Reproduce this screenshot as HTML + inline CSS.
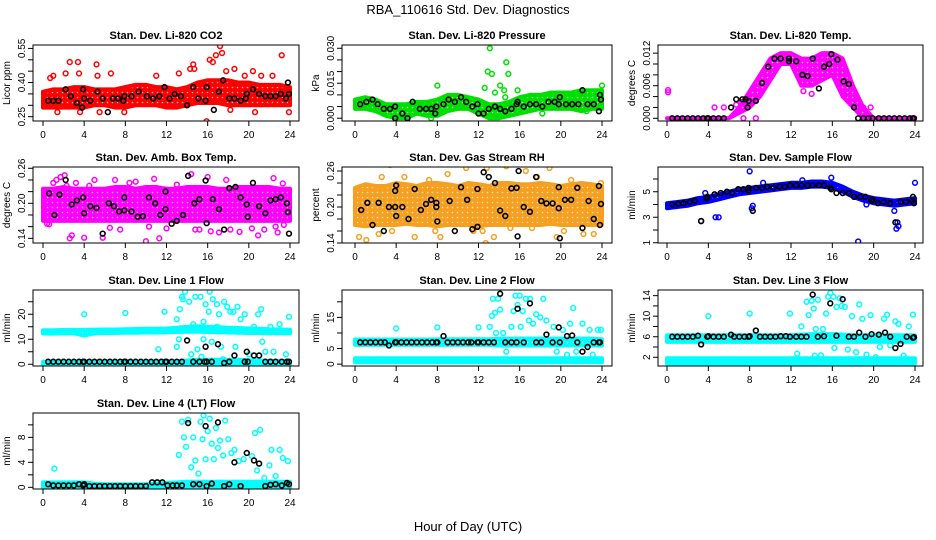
<!DOCTYPE html>
<html><head><meta charset="utf-8"><style>
html,body{margin:0;padding:0;background:#fff;}
svg{display:block;font-family:"Liberation Sans",Arial,sans-serif;}
</style></head><body>
<svg id="chart" width="936" height="540" viewBox="0 0 936 540" xmlns="http://www.w3.org/2000/svg">
<rect width="936" height="540" fill="#fff"/>
<text x="468" y="14" text-anchor="middle" font-size="13">RBA_110616  Std. Dev. Diagnostics</text>
<text x="468" y="531" text-anchor="middle" font-size="13">Hour of Day (UTC)</text>
</svg>
<script>
// ---- data: hourly band limits (hours 0..24) ----
const bandHours = [0,1,2,3,4,5,6,7,8,9,10,11,12,13,14,15,16,17,18,19,20,21,22,23,24];
const xTicks = [0,4,8,12,16,20,24];
// CO2
const co2Lo = [0.29,0.29,0.29,0.29,0.29,0.30,0.30,0.29,0.29,0.30,0.30,0.30,0.29,0.29,0.30,0.31,0.31,0.31,0.30,0.30,0.30,0.30,0.30,0.30,0.30];
const co2Hi = [0.36,0.37,0.37,0.38,0.38,0.37,0.37,0.37,0.38,0.39,0.39,0.38,0.38,0.37,0.38,0.40,0.41,0.41,0.41,0.40,0.40,0.39,0.39,0.39,0.38];
const co2OutX = [1,0.7,2.2,2.6,3.4,3.5,5.2,5.3,6.6,1.4,3.6,5.5,7.9,11,13.2,14.6,14.7,15.9,16.2,16.8,17.2,17.4,17.8,18.6,19.6,20.4,20.6,21.2,22.3,23.2,23.9,18.2,16.5,14.3];
const co2OutY = [0.43,0.42,0.44,0.49,0.49,0.44,0.48,0.43,0.44,0.27,0.27,0.27,0.27,0.43,0.44,0.48,0.46,0.23,0.50,0.52,0.56,0.53,0.45,0.46,0.43,0.45,0.27,0.43,0.43,0.52,0.27,0.28,0.49,0.46];
const co2BlkX = [0.5,1,1.5,2.2,2.7,3.3,3.8,3.9,4.0,4.6,5.3,5.8,6.3,6.8,7.3,7.8,7.9,8.6,9.3,10.1,10.7,11.3,11.8,12.3,12.8,13.4,14.0,14.6,15.1,15.8,15.9,16.6,17.1,17.5,18.1,18.6,19.2,19.7,19.8,20.4,21,21.6,22.1,22.6,23.1,23.6,23.8,23.9];
const co2BlkY = [0.32,0.32,0.32,0.37,0.34,0.31,0.29,0.37,0.33,0.32,0.36,0.33,0.27,0.33,0.33,0.32,0.34,0.34,0.36,0.34,0.33,0.34,0.38,0.33,0.35,0.34,0.30,0.38,0.33,0.32,0.38,0.28,0.36,0.41,0.33,0.33,0.32,0.33,0.35,0.37,0.35,0.34,0.34,0.34,0.35,0.33,0.40,0.35];
// Pressure
const prLo = [0.004,0.004,0.003,0.001,0.000,0.000,0.002,0.001,0.001,0.003,0.004,0.004,0.002,0.000,0.000,0.001,0.002,0.003,0.004,0.004,0.004,0.004,0.003,0.004,0.004];
const prHi = [0.008,0.009,0.008,0.006,0.006,0.006,0.007,0.007,0.008,0.010,0.010,0.009,0.008,0.006,0.006,0.007,0.009,0.010,0.010,0.011,0.011,0.011,0.012,0.012,0.012];
const prOutX = [8,13.1,12.9,13.3,14.7,14.9,12.6,14.1,13.6,14.5,15.8,14.6,22.1,24,7.4,18.2,22.5,20.2,21.3];
const prOutY = [0.014,0.030,0.020,0.019,0.024,0.019,0.013,0.014,0.011,0.012,0.012,0.009,0.012,0.014,0.000,0.002,0.003,0.010,0.010];
const prBlkX = [0.5,1.1,1.7,2.2,2.8,3.4,3.9,3.9,4.6,5.1,5.6,6.3,6.9,7.4,7.8,7.9,8.6,9.1,9.7,10.3,10.8,11.4,11.9,12.0,12.5,13.0,13.6,14.1,14.6,15.2,15.7,15.8,16.4,17.0,17.6,18.2,18.8,19.4,19.8,19.9,20.5,21.1,21.7,22.1,22.6,23.2,23.7,23.8,23.9];
const prBlkY = [0.006,0.007,0.008,0.006,0.004,0.004,0.005,0.000,0.002,0.000,0.007,0.004,0.004,0.004,0.002,0.005,0.006,0.008,0.007,0.009,0.007,0.005,0.006,0.002,0.002,0.004,0.005,0.004,0.003,0.004,0.006,0.007,0.005,0.006,0.006,0.005,0.007,0.007,0.006,0.009,0.006,0.006,0.006,0.012,0.006,0.006,0.003,0.010,0.008];
// Li-820 temp
const ltLo = [0,0,0,0,0,0,0,0.001,0.002,0.004,0.007,0.010,0.010,0.006,0.006,0.007,0.008,0.004,0.002,0,0,0,0,0,0];
const ltHi = [0,0,0,0,0,0,0,0.002,0.005,0.008,0.011,0.012,0.012,0.011,0.011,0.012,0.012,0.011,0.006,0.002,0,0,0,0,0];
const ltOutX = [0.1,0.1,4.6,5.5,6.7,7.2,14.0,13.2,18.3,19,19.7,8.6,7.4];
const ltOutY = [0.0052,0.0048,0.002,0.002,0.0025,0.003,0.0045,0.005,0.002,0.002,0.002,0.000,0.000];
const ltBlkX = [0.5,1,1.5,2,2.5,3,3.5,3.9,4,4.5,5,5.5,6.2,6.7,7.3,7.6,7.8,7.9,8.6,9.2,9.8,10.4,11,11.8,11.8,12.5,13.1,13.6,14.1,14.7,15.2,15.7,15.9,16.5,17.1,17.6,18.1,18.5,19,19.5,19.9,20.5,21,21.5,22,22.5,23,23.5,23.8,23.9];
const ltBlkY = [0,0,0,0,0,0,0,0,0,0,0,0,0.002,0.0035,0.0035,0.0035,0.002,0.0032,0.0032,0.0065,0.0095,0.011,0.011,0.0105,0.011,0.0105,0.008,0.0078,0.011,0.0055,0.0095,0.010,0.0118,0.0108,0.0068,0.0063,0.002,0,0,0,0,0,0,0,0,0,0,0,0,0];
// Amb box temp
const abLo = [0.17,0.17,0.17,0.17,0.17,0.17,0.17,0.17,0.17,0.17,0.17,0.17,0.17,0.17,0.17,0.17,0.17,0.17,0.17,0.17,0.17,0.17,0.17,0.17,0.17];
const abHi = [0.225,0.225,0.228,0.225,0.225,0.225,0.225,0.228,0.228,0.225,0.228,0.228,0.225,0.225,0.228,0.228,0.228,0.225,0.225,0.228,0.228,0.228,0.228,0.225,0.225];
const abOutX = [0.4,0.6,1,1.3,1.7,2.1,2.3,2.6,2.8,3.2,4,4.5,5,5.8,6.5,7,7.5,8.4,9.0,10,10.3,10.8,11.3,12,13,14.4,14.8,15.2,16,16.3,17.1,17.8,18.2,19.1,20.3,20.9,21.5,22.4,22.6,22.8,23.3,23.4];
const abOutY = [0.165,0.164,0.235,0.24,0.245,0.248,0.23,0.14,0.145,0.235,0.141,0.23,0.24,0.141,0.158,0.24,0.155,0.235,0.237,0.135,0.16,0.242,0.14,0.157,0.232,0.25,0.155,0.155,0.245,0.152,0.15,0.24,0.155,0.151,0.157,0.145,0.155,0.243,0.16,0.15,0.234,0.163];
const abBlkX = [0.6,1.1,1.6,2.2,2.8,3.3,3.9,4.0,4.6,5.2,5.8,6.4,6.9,7.4,7.9,7.9,8.6,9.2,9.7,10.3,10.9,11.4,11.9,11.9,12.5,13.0,13.6,14.1,14.7,15.2,15.8,15.9,16.5,17.1,17.6,18.1,18.7,19.2,19.8,19.9,20.4,21,21.6,22.1,22.6,23.1,23.7,23.8,23.9];
const abBlkY = [0.217,0.18,0.215,0.24,0.198,0.205,0.21,0.183,0.195,0.192,0.148,0.2,0.195,0.186,0.188,0.21,0.186,0.177,0.178,0.21,0.2,0.18,0.19,0.22,0.165,0.17,0.18,0.247,0.2,0.207,0.239,0.166,0.207,0.19,0.155,0.226,0.228,0.21,0.198,0.177,0.235,0.195,0.183,0.205,0.207,0.21,0.2,0.185,0.148];
// Gas stream RH
const rhLo = [0.17,0.168,0.17,0.17,0.17,0.172,0.17,0.17,0.168,0.17,0.17,0.17,0.168,0.17,0.17,0.17,0.17,0.17,0.17,0.172,0.17,0.17,0.17,0.17,0.17];
const rhHi = [0.232,0.238,0.235,0.235,0.24,0.238,0.235,0.24,0.24,0.238,0.235,0.24,0.238,0.235,0.24,0.24,0.238,0.238,0.24,0.238,0.235,0.238,0.24,0.238,0.235];
const rhOutX = [0.4,1.1,1.6,2.3,2.6,3.4,3.6,4.8,5.8,7.2,7.8,8.3,9.0,10.8,11.5,12.4,12.7,13.5,14.7,15.1,16.6,17.2,17.7,18.9,19.6,20.3,21.0,22.2,23.2,23.9,12.8];
const rhOutY = [0.15,0.145,0.175,0.155,0.25,0.27,0.16,0.25,0.15,0.245,0.16,0.15,0.255,0.265,0.16,0.16,0.14,0.15,0.268,0.165,0.26,0.165,0.25,0.265,0.15,0.16,0.245,0.155,0.155,0.24,0.265];
const rhBlkX = [0.6,1.2,1.7,2.3,2.8,3.3,3.9,3.9,4.0,4.0,4.6,5.2,5.8,6.4,6.9,7.4,7.9,7.9,8.0,8.6,9.2,9.7,10.3,10.9,11.4,11.9,11.9,12.5,13.0,13.6,14.1,14.6,15.2,15.7,15.8,15.9,16.4,17,17.6,18.1,18.6,19.2,19.8,19.8,19.9,20.4,21,21.6,22.1,22.7,23.2,23.7,23.8,23.9];
const rhBlkY = [0.195,0.207,0.17,0.207,0.16,0.2,0.2,0.227,0.236,0.185,0.2,0.18,0.23,0.195,0.205,0.212,0.2,0.207,0.176,0.275,0.21,0.16,0.233,0.212,0.163,0.23,0.167,0.258,0.25,0.24,0.194,0.185,0.231,0.232,0.151,0.26,0.2,0.192,0.25,0.21,0.206,0.206,0.233,0.198,0.148,0.212,0.212,0.232,0.165,0.21,0.18,0.235,0.17,0.205];
// Sample flow
const sfLo = [3.7,3.8,3.9,4.1,4.2,4.4,4.6,4.8,4.9,5.0,5.1,5.2,5.3,5.3,5.4,5.4,5.3,5.0,4.6,4.3,4.1,4.0,3.9,4.0,4.1];
const sfHi = [4.1,4.2,4.3,4.5,4.6,4.8,5.0,5.2,5.3,5.4,5.5,5.6,5.7,5.7,5.8,5.8,5.7,5.4,5.0,4.7,4.5,4.4,4.3,4.4,4.5];
const sfOutX = [3.3,4.7,3.7,8.2,8.0,9.6,9.3,13.1,15.9,17.0,18.5,19.3,21.5,22.0,22.2,22.3,22.4,23.1,24.0,5,8.3];
const sfOutY = [2.7,3.0,4.9,3.7,6.6,5.3,5.7,5.9,6.1,4.9,1.1,4.0,4.2,3.5,2.1,2.6,2.3,4.2,5.7,3.0,3.9];
const sfBlkX = [0.5,1.1,1.6,2.2,2.7,3.3,3.8,3.9,4.6,5.2,5.8,6.3,6.9,7.4,7.9,7.9,8.3,8.6,9.2,9.7,10.3,10.9,11.4,11.9,12.5,13,13.6,14.1,14.7,15.2,15.8,15.9,16.4,17,17.6,18.1,18.7,19.2,19.8,19.9,20.4,21,21.6,22.1,22.6,23.1,23.7,23.8,23.9];
const sfBlkY = [4.0,4.05,4.1,4.2,4.3,2.7,4.5,4.6,4.8,4.9,5.0,4.9,5.2,5.2,5.1,5.3,3.5,5.3,5.3,5.4,5.3,5.4,5.4,5.5,5.5,5.5,5.5,5.5,5.5,5.5,5.3,5.2,4.9,4.9,4.9,4.6,4.6,4.6,4.3,4.4,4.1,4.2,4.1,2.6,4.2,4.2,4.3,4.6,4.1];
// Line 1 flow
const l1LoA = [12.3,12.3,12.4,12.4,11.5,12.4,12.5,12.5,12.6,12.6,12.7,12.7,12.8,12.9,13.0,13.0,12.9,12.8,12.7,12.6,12.5,12.5,12.4,12.4,12.4];
const l1HiA = [13.6,13.6,13.7,13.7,13.8,13.8,13.9,13.9,14.0,14.1,14.2,14.2,14.3,14.6,15.0,15.2,15.0,14.8,14.6,14.5,14.3,14.2,14.0,13.9,13.8];
const l1LoB = [0,0,0,0,0,0,0,0,0,0,0,0,0,0,0,0,0,0,0,0,0,0,0,0,0];
const l1HiB = [1.0,1.0,1.0,1.0,1.0,1.0,1.0,1.0,1.0,1.0,1.0,1.0,1.0,1.2,1.5,1.8,1.8,1.8,1.8,1.8,1.6,1.5,1.4,1.3,1.2];
const l1OutX = [4,8,11.2,11.8,13,13.3,13.5,13.6,13.8,13.2,13,14.2,14.4,14.8,15,15.3,15.4,15.6,15.6,15.8,16.1,16.2,16.4,16.5,16.9,17.1,17.3,17.6,17.9,18.2,18.5,18.7,18.9,19.2,19.6,20.0,20.5,20.9,21.2,21.3,21.6,22.1,22.4,23,23.6,23.9,14.6,17.5,16.9];
const l1OutY = [20,20.5,6,21,18,22,27,26,29,10,7,25,4,27,6,27,3,17,10,24,21,29,9,26,24,20,7,25,23,21,21,7,23,18,20,4,15,20,22,9,5,15,5,16,4,19,16,2,15];
const l1BlkX = [0.5,1,1.5,2,2.5,3,3.5,3.9,4,4.5,5,5.5,6,6.5,7,7.5,7.9,8,8.5,9,9.5,10,10.5,11,11.5,11.9,12,12.5,13,13.5,14,14.6,15.2,15.7,15.8,15.9,16.4,17,17.6,18.1,18.6,19.6,19.8,19.9,20.5,21,21.6,22.1,22.6,23.2,23.7,23.9];
const l1BlkY = [1,1,1,1,1,1,1,1,1,1,1,1,1,1,1,1,1,1,1,1,1,1,1,1,1,1,1,1,1,1,9.5,1,1,1,7,1,1,8,0.5,1,3.5,1,5,1,3.5,3.5,1,1,1,1,1,1];
// Line 2 flow
const l2LoA = [6.2,6.2,6.2,6.2,6.2,6.2,6.2,6.2,6.2,6.2,6.2,6.2,6.2,6.2,6.0,6.0,6.0,6.0,6.0,6.0,6.0,6.0,6.0,6.0,6.0];
const l2HiA = [7.9,7.9,7.9,7.9,7.9,7.9,7.9,7.9,8.0,8.0,8.0,8.0,8.0,8.0,8.2,8.2,8.2,8.2,8.2,8.2,8.2,8.2,8.2,8.2,8.0];
const l2LoB = [0.6,0.6,0.6,0.6,0.6,0.6,0.6,0.6,0.6,0.6,0.6,0.6,0.6,0.6,0.6,0.6,0.6,0.6,0.6,0.6,0.6,0.6,0.6,0.6,0.6];
const l2HiB = [1.9,1.9,1.9,1.9,1.9,1.9,1.9,1.9,1.9,1.9,1.9,1.9,1.9,1.9,1.9,1.9,1.9,1.9,1.9,1.9,1.9,1.9,1.9,1.9,1.9];
const l2OutX = [4,8,12,13.1,13.3,13.4,13.6,13.9,14.1,14.4,14.7,15,15.2,15.4,15.6,15.8,16,16.3,16.6,16.9,17,17.3,17.6,18,18.3,18.6,19,19.3,19.6,20.2,20.6,20.9,21.2,21.5,22.1,22.8,23.1,23.6,23.9,13.7,16.1];
const l2OutY = [11.5,11.8,11.8,12,15.5,21,16.5,21,17.5,10,4,7,12,17,22,19,22,17,21,14,21,13,16,15,21,14,7,12,4,11,3,13,18,4,13,11,3,11,11,10,12];
const l2BlkX = [0.5,1,1.5,2,2.5,2.9,3.3,3.9,4,4.5,5,5.5,6,6.5,7,7.5,7.9,8,8.6,9,9.5,10,10.5,11,11.3,11.9,12,12.5,13,13.5,14.1,14.6,15.2,15.7,15.8,16.4,17,17.6,18.1,18.6,19.2,19.8,19.9,20.6,21.1,21.6,22.1,22.6,23.2,23.7,23.8];
const l2BlkY = [7,7,7,7,7,7,6,7,7,7,7,7,7,7,7,7,7,7,9,7,7,7,7,7,7,7,7,7,7,7,22.6,7,7,7,17.8,7,19.5,7,7,9.5,7,11.8,7,9,9.2,7,4,5.5,7,7,7];
// Line 3 flow
const l3LoA = [5.0,5.0,5.0,5.0,5.0,5.0,5.0,5.0,5.0,5.0,5.0,5.0,5.0,5.0,5.0,5.0,5.0,5.0,5.0,5.0,5.0,5.0,5.0,5.0,5.0];
const l3HiA = [6.3,6.3,6.3,6.3,6.3,6.3,6.3,6.3,6.3,6.3,6.3,6.3,6.3,6.4,6.5,6.5,6.5,6.4,6.3,6.3,6.3,6.3,6.3,6.3,6.3];
const l3LoB = [0.8,0.8,0.8,0.8,0.8,0.8,0.8,0.8,0.8,0.8,0.8,0.8,0.8,0.8,0.8,0.8,0.8,0.8,0.8,0.8,0.8,0.8,0.8,0.8,0.8];
const l3HiB = [1.8,1.8,1.8,1.8,1.8,1.8,1.8,1.8,1.8,1.8,1.8,1.8,1.8,1.8,1.8,1.8,1.8,1.8,1.8,1.8,1.8,1.8,1.8,1.8,1.8];
const l3OutX = [4,8,11.9,12.6,13,13.5,13.7,14,14.2,14.4,14.6,14.9,15.1,15.4,15.6,15.8,16.1,16.4,16.7,16.9,17.2,17.5,17.9,18.3,18.6,18.9,19.3,19.7,20.2,20.6,21,21.3,21.6,22.1,22.4,22.9,23.4,23.8,14.3,16.2];
const l3OutY = [10,10.5,10.5,2.7,8,12.8,10.2,13,11.5,7.5,13.2,2.4,7.5,10.5,13.8,14.5,13.8,11.8,13.5,12,11.8,3.5,10,3,12.3,9.5,2.5,10.2,2,4,9.5,10.3,4.3,9,8.5,2.3,8,10.3,2.3,3.8];
const l3BlkX = [0.5,1,1.5,2,2.5,3,3.3,3.9,4,4.5,5,5.5,6.2,6.5,7,7.5,7.9,8,8.6,9,9.5,10,10.5,11,11.5,11.9,12.5,13,13.5,14.1,14.6,15.2,15.8,16.4,17,17.6,18.1,18.6,19.2,19.8,20.5,21.1,21.6,22.1,22.6,23.2,23.8,23.9];
const l3BlkY = [6,6,6,6,6,6.2,4.5,6,6.1,6,6,6,6.4,6,6,6,6,6.1,7.2,6,6,6,6,6.1,6.1,6,6,6,6,14.2,6,6.1,12.5,6.2,13.3,6,6,6.8,6,6.5,6.4,6.8,6,3.8,4.6,6,5.8,5.9];
// Line 4 (LT) flow
const l4Lo = [0,0,0,0,0,0,0,0,0,0,0,0,0,0,0,0,0,0,0,0,0,0,0,0,0];
const l4Hi = [0.8,0.8,0.8,0.8,0.8,0.6,0.5,0.5,0.5,0.5,0.5,0.6,0.7,0.8,0.9,0.9,0.9,0.9,0.9,0.9,0.9,0.9,0.9,0.9,0.9];
const l4OutX = [1.1,13.2,13.5,13.7,13.9,14.1,14.4,14.6,14.8,15.1,15.3,15.5,15.6,15.8,16,16.2,16.4,16.6,16.8,17,17.2,17.5,17.7,18,18.3,18.6,19,19.5,20.3,20.6,20.8,21.1,21.5,22,22.2,22.6,23,23.3,23.8];
const l4OutY = [3,5.2,10.5,8,6.5,10.8,3.2,8,4.3,2.2,10.5,7.7,11.5,4.5,9,11,7,4.5,9.5,6.3,7.5,5.1,10.7,7.7,5.5,6,4.2,4.5,5,8.7,2.7,9.2,1.5,3.5,6,1.8,6,4.7,4.2];
const l4BlkX = [0.5,1,1.5,2,2.5,3,3.5,3.9,4,4.5,5,5.5,6,6.5,7,7.5,8,8.5,9,9.5,10,10.6,11.1,11.6,12.1,12.6,13,13.5,14.1,14.6,15.2,15.8,15.9,16.4,17,17.6,18.1,18.6,19.2,19.8,20.5,21,21.6,22.1,22.6,23.2,23.7,23.9];
const l4BlkY = [0.5,0.3,0.3,0.3,0.3,0.3,0.5,0.3,0.5,0.2,0.2,0.2,0.2,0.2,0.2,0.2,0.2,0.2,0.2,0.2,0.2,0.8,0.8,0.8,0.3,0.3,0.3,0.3,10.3,0.5,0.5,9.8,0.2,0.6,10.4,0.2,0.5,4,0.2,5.5,4.3,3.8,0.2,0.4,0.5,0.3,0.7,0.5];

// ---- panel configuration ----
const cols = [{l:33,r:299,x0:43,x24:290},{l:342,r:612,x0:355,x24:602},{l:658,r:923,x0:667,x24:915}];
const rows = [45,167,290,413];
const H = 76;
const panels = [
 {name:'co2',title:'Stan. Dev. Li-820 CO2',ylab:'Licor ppm',c:0,r:0,y0:0.231,y1:0.565,yt:[0.25,0.30,0.35,0.40,0.45,0.50,0.55],yl:['0.25','0.40','0.55'],col:'#ff0000',bands:[[co2Lo,co2Hi]],ox:co2OutX,oy:co2OutY,bx:co2BlkX,by:co2BlkY},
 {name:'pressure',title:'Stan. Dev. Li-820 Pressure',ylab:'kPa',c:1,r:0,y0:-0.0012,y1:0.0314,yt:[0,0.005,0.010,0.015,0.020,0.025,0.030],yl:['0.000','0.015','0.030'],col:'#00e000',bands:[[prLo,prHi]],ox:prOutX,oy:prOutY,bx:prBlkX,by:prBlkY},
 {name:'li820-temp',title:'Stan. Dev. Li-820 Temp.',ylab:'degrees C',c:2,r:0,y0:-0.0005,y1:0.0135,yt:[0,0.002,0.004,0.006,0.008,0.010,0.012],yl:['0.000','0.006','0.012'],col:'#ff00ff',bands:[[ltLo,ltHi]],ox:ltOutX,oy:ltOutY,bx:ltBlkX,by:ltBlkY},
 {name:'amb-box-temp',title:'Stan. Dev. Amb. Box Temp.',ylab:'degrees C',c:0,r:1,y0:0.132,y1:0.2622,yt:[0.14,0.16,0.18,0.20,0.22,0.24,0.26],yl:['0.14','0.20','0.26'],col:'#ff00ff',bands:[[abLo,abHi]],ox:abOutX,oy:abOutY,bx:abBlkX,by:abBlkY},
 {name:'gas-stream-rh',title:'Stan. Dev. Gas Stream RH',ylab:'percent',c:1,r:1,y0:0.14,y1:0.2667,yt:[0.14,0.16,0.18,0.20,0.22,0.24,0.26],yl:['0.14','0.20','0.26'],col:'#f5a020',bands:[[rhLo,rhHi]],ox:rhOutX,oy:rhOutY,bx:rhBlkX,by:rhBlkY},
 {name:'sample-flow',title:'Stan. Dev. Sample Flow',ylab:'ml/min',c:2,r:1,y0:0.98,y1:6.94,yt:[1,2,3,4,5,6],yl:['1','3','5'],col:'#0000ff',bands:[[sfLo,sfHi]],ox:sfOutX,oy:sfOutY,bx:sfBlkX,by:sfBlkY},
 {name:'line1-flow',title:'Stan. Dev. Line 1 Flow',ylab:'ml/min',c:0,r:2,y0:-0.7,y1:29.7,yt:[0,5,10,15,20,25],yl:['0','10','20'],col:'#00ffff',bands:[[l1LoA,l1HiA],[l1LoB,l1HiB]],ox:l1OutX,oy:l1OutY,bx:l1BlkX,by:l1BlkY},
 {name:'line2-flow',title:'Stan. Dev. Line 2 Flow',ylab:'ml/min',c:1,r:2,y0:-0.6,y1:23.8,yt:[0,5,10,15,20],yl:['0','5','15'],col:'#00ffff',bands:[[l2LoA,l2HiA],[l2LoB,l2HiB]],ox:l2OutX,oy:l2OutY,bx:l2BlkX,by:l2BlkY},
 {name:'line3-flow',title:'Stan. Dev. Line 3 Flow',ylab:'ml/min',c:2,r:2,y0:0.3,y1:15.1,yt:[2,4,6,8,10,12,14],yl:['2','6','10','14'],col:'#00ffff',bands:[[l3LoA,l3HiA],[l3LoB,l3HiB]],ox:l3OutX,oy:l3OutY,bx:l3BlkX,by:l3BlkY},
 {name:'line4-flow',title:'Stan. Dev. Line 4 (LT) Flow',ylab:'ml/min',c:0,r:3,y0:-0.27,y1:11.9,yt:[0,2,4,6,8,10],yl:['0','4','8'],col:'#00ffff',bands:[[l4Lo,l4Hi]],ox:l4OutX,oy:l4OutY,bx:l4BlkX,by:l4BlkY}
];

const NS='http://www.w3.org/2000/svg';
const svg=document.getElementById('chart');
function mk(tag,attrs,parent){const e=document.createElementNS(NS,tag);for(const k in attrs)e.setAttribute(k,attrs[k]);(parent||svg).appendChild(e);return e;}
const defs=mk('defs',{});

panels.forEach(p=>{
  const C=cols[p.c], top=rows[p.r], bot=top+H;
  const sx=h=>C.x0+(C.x24-C.x0)*h/24;
  const sy=v=>bot-(v-p.y0)/(p.y1-p.y0)*H;
  const patId='pat-'+p.name;
  const pat=mk('pattern',{id:patId,width:5,height:5,patternUnits:'userSpaceOnUse'},defs);
  mk('rect',{width:5,height:5,fill:p.col},pat);
  mk('circle',{cx:2.5,cy:2.5,r:0.8,fill:'#fff','fill-opacity':0.7},pat);
  const g=mk('g',{});
  
  
  const clipId='clip-'+p.name;
  const cp=mk('clipPath',{id:clipId},g); mk('rect',{x:C.l,y:top,width:C.r-C.l,height:H},cp);
  const plot=mk('g',{'clip-path':'url(#'+clipId+')'},g);
  p.bands.forEach(b=>{
    const lo=b[0], hi=b[1];
    let pts=[];
    bandHours.forEach((h,i)=>pts.push(sx(h)+','+sy(hi[i])));
    for(let i=bandHours.length-1;i>=0;i--)pts.push(sx(bandHours[i])+','+sy(lo[i]));
    const poly=mk('polygon',{points:pts.join(' '),fill:'url(#'+patId+')',stroke:p.col,'stroke-width':4,'stroke-linejoin':'round'},plot);
    
    
  });
  p.ox.forEach((h,i)=>{
    const c=mk('circle',{cx:sx(h),cy:sy(p.oy[i]),r:2.4,fill:'none',stroke:p.col,'stroke-width':1.5},plot);
    
    
  });
  p.bx.forEach((h,i)=>{
    const c=mk('circle',{cx:sx(h),cy:sy(p.by[i]),r:2.4,fill:'none',stroke:'#000','stroke-width':1.6},plot);
    
    
  });
  const box=mk('rect',{x:C.l,y:top,width:C.r-C.l,height:H,fill:'none',stroke:'#000','stroke-width':1},g);
  
  
  const xa=mk('g',{},g);
  
  
  mk('line',{x1:sx(0),x2:sx(24),y1:bot,y2:bot,stroke:'#000'},xa);
  xTicks.forEach(t=>{
    mk('line',{x1:sx(t),x2:sx(t),y1:bot,y2:bot+5,stroke:'#000'},xa);
    const tx=mk('text',{x:sx(t),y:bot+17,'text-anchor':'middle','font-size':10},xa); tx.textContent=t;
  });
  const ya=mk('g',{},g);
  
  
  mk('line',{x1:C.l,x2:C.l,y1:sy(p.yt[0]),y2:sy(p.yt[p.yt.length-1]),stroke:'#000'},ya);
  p.yt.forEach(t=>mk('line',{x1:C.l-5,x2:C.l,y1:sy(t),y2:sy(t),stroke:'#000'},ya));
  p.yl.forEach(l=>{
    const y=sy(parseFloat(l));
    const tx=mk('text',{x:0,y:0,transform:'translate('+(C.l-8)+','+y+') rotate(-90)','text-anchor':'middle','font-size':10},ya); tx.textContent=l;
  });
  const yt=mk('text',{transform:'translate('+(C.l-23)+','+(top+H/2)+') rotate(-90)','text-anchor':'middle','font-size':10},g);
  yt.textContent=p.ylab;
  
  
  const tt=mk('text',{x:(C.l+C.r)/2,y:top-6,'text-anchor':'middle','font-size':11,'font-weight':'bold'},g);
  tt.textContent=p.title;
  
  
});
</script>
</body></html>
